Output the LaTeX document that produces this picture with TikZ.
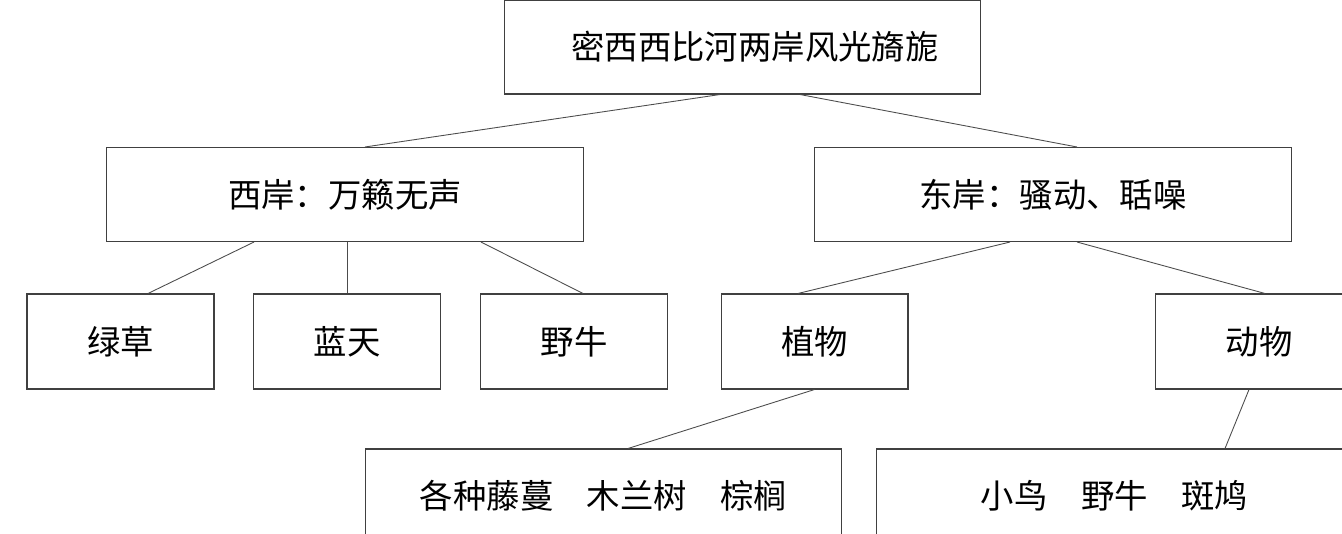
\documentclass[tikz,border=0pt]{standalone}
\usepackage{fontspec}
\setmainfont{Noto Sans CJK SC}
\usepackage{tikz}
\usetikzlibrary{positioning,calc}

\begin{document}
\begin{tikzpicture}[
  x=0.02cm, y=-0.02cm,
  bigbox/.style={rectangle, draw=black!75, line width=0.6pt, minimum width=9.54cm, minimum height=1.88cm, inner sep=0pt, font=\fontsize{19}{22}\selectfont},
  smallbox/.style={rectangle, draw=black!75, line width=0.6pt, minimum width=3.74cm, minimum height=1.9cm, inner sep=0pt, font=\fontsize{19}{22}\selectfont},
  link/.style={draw=black!70, line width=0.5pt}
]
\useasboundingbox (0,0) rectangle (1342,534);

\node[bigbox] (top) at (742.5,47) {\hspace{0.5cm}密西西比河两岸风光旖旎};
\node[bigbox] (west) at (345,194.5) {西岸：万籁无声};
\node[bigbox] (east) at (1053,194.5) {东岸：骚动、聒噪};

\node[smallbox] (grass) at (120.5,341.5) {绿草};
\node[smallbox] (sky) at (347,341.5) {蓝天};
\node[smallbox] (bison) at (574,341.5) {野牛};
\node[smallbox] (plants) at (814.5,341.5) {植物};
\node[smallbox] (animals) at (1249,341.5) {\hspace{0.4cm}动物};

\node[bigbox] (flora) at (603.5,496) {各种藤蔓　木兰树　棕榈};
\node[bigbox] (fauna) at (1114.5,496) {小鸟　野牛　斑鸠};

\draw[link] ($(top.south)+(-22.5,0)$) -- ($(west.north)+(20,0)$);
\draw[link] ($(top.south)+(57.5,0)$) -- ($(east.north)+(24,0)$);
\draw[link] ($(west.south)+(-91,0)$) -- ($(grass.north)+(27.5,0)$);
\draw[link] ($(west.south)+(2,0)$) -- (sky.north);
\draw[link] ($(west.south)+(136,0)$) -- ($(bison.north)+(9,0)$);
\draw[link] ($(east.south)+(-43,0)$) -- ($(plants.north)+(-16.5,0)$);
\draw[link] ($(east.south)+(24,0)$) -- ($(animals.north)+(16,0)$);
\draw[link] (plants.south) -- ($(flora.north)+(24.5,0)$);
\draw[link] (animals.south) -- ($(fauna.north)+(110.5,0)$);
\end{tikzpicture}
\end{document}
